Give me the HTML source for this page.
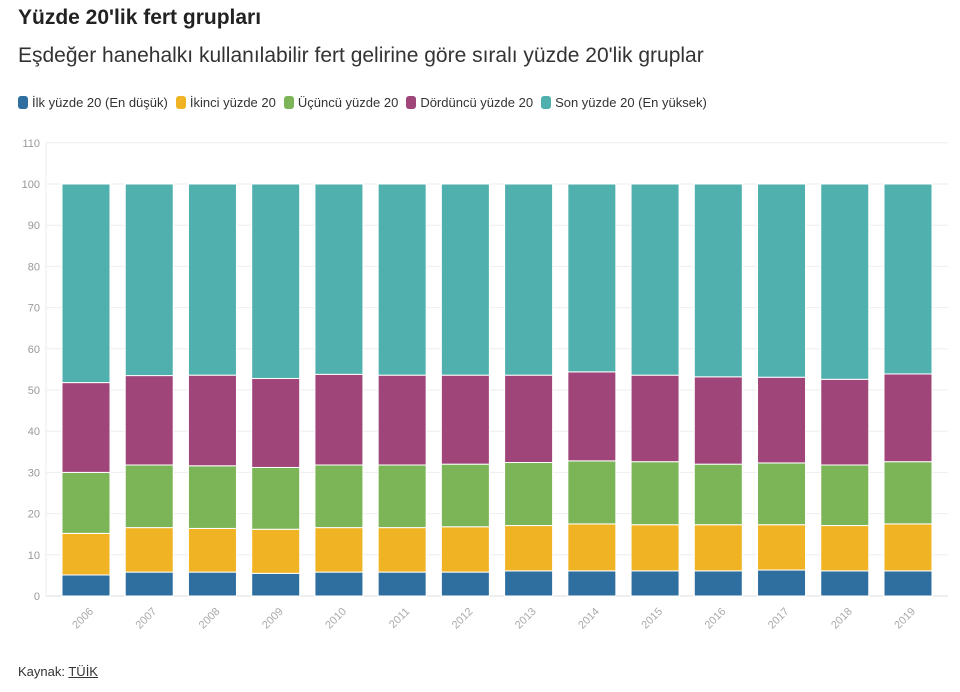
<!DOCTYPE html>
<html><head><meta charset="utf-8">
<style>
body{margin:0;background:#fff;font-family:"Liberation Sans","DejaVu Sans",sans-serif;}
#wrap{position:relative;width:960px;height:692px;overflow:hidden;}
h1{position:absolute;left:18px;top:6px;margin:0;font-size:21px;font-weight:bold;color:#222;}
h2{position:absolute;left:18px;top:44px;margin:0;font-size:21px;font-weight:normal;color:#333;}
#legend{position:absolute;left:18px;top:95px;font-size:13px;color:#333;display:flex;gap:8px;}
.li{display:flex;align-items:center;}
.sw{display:inline-block;width:10px;height:13px;border-radius:3px;margin-right:4px;}
#foot{position:absolute;left:18px;top:664px;font-size:13px;color:#333;}
#foot u{color:#333;}
</style></head><body>
<div id="wrap">
<h1>Yüzde 20'lik fert grupları</h1>
<h2>Eşdeğer hanehalkı kullanılabilir fert gelirine göre sıralı yüzde 20'lik gruplar</h2>
<div id="legend">
<span class="li"><span class="sw" style="background:#2f6f9f"></span>İlk yüzde 20 (En düşük)</span>
<span class="li"><span class="sw" style="background:#f0b323"></span>İkinci yüzde 20</span>
<span class="li"><span class="sw" style="background:#7cb557"></span>Üçüncü yüzde 20</span>
<span class="li"><span class="sw" style="background:#a0457a"></span>Dördüncü yüzde 20</span>
<span class="li"><span class="sw" style="background:#4fb0ad"></span>Son yüzde 20 (En yüksek)</span>
</div>
<svg id="chart" width="960" height="692" style="position:absolute;left:0;top:0"></svg>
<div id="foot">Kaynak: <u>TÜİK</u></div>
</div>
<script>
const years=["2006","2007","2008","2009","2010","2011","2012","2013","2014","2015","2016","2017","2018","2019"];
const q1=[5.1,5.8,5.8,5.5,5.8,5.8,5.8,6.1,6.1,6.1,6.1,6.3,6.1,6.1];
const q2=[10.1,10.8,10.6,10.7,10.8,10.8,11.0,11.0,11.4,11.2,11.2,11.0,11.0,11.4];
const q3=[14.8,15.2,15.2,15.0,15.2,15.2,15.2,15.3,15.3,15.3,14.7,15.0,14.7,15.1];
const q4=[21.8,21.7,22.0,21.6,22.0,21.8,21.6,21.2,21.6,21.0,21.2,20.8,20.8,21.3];
const q5=[48.2,46.5,46.4,47.2,46.2,46.4,46.4,46.4,45.6,46.4,46.8,46.9,47.4,46.1];
const yTicks=[0,10,20,30,40,50,60,70,80,90,100,110];
const series=[q1,q2,q3,q4,q5];
const colors=["#2f6f9f","#f0b323","#7cb557","#a0457a","#4fb0ad"];
const names=["q1","q2","q3","q4","q5"];
const NS="http://www.w3.org/2000/svg";
const svg=document.getElementById('chart');
const y0=596,pxPer=4.12,x0=62,step=63.23,bw=48;
const y=v=>y0-v*pxPer;
const x=i=>x0+i*step;
function mk(t,a){const e=document.createElementNS(NS,t);for(const k in a)e.setAttribute(k,a[k]);svg.appendChild(e);return e;}
yTicks.forEach(t=>{
 const g=mk('line',{x1:46,x2:948,y1:y(t),y2:y(t),stroke:t===0?'#ddd':'#eee','stroke-width':1});
 
 
 const l=mk('text',{x:40,y:y(t)+4,'text-anchor':'end','font-size':11,fill:'#999','font-family':'Liberation Sans,sans-serif'});
 l.textContent=t;
 
 
});
mk('line',{x1:46,x2:46,y1:y(110),y2:y0,stroke:'#eee'});
years.forEach((yr,i)=>{
 let cum=0;
 series.forEach((s,k)=>{
  const v=s[i];
  const r=mk('rect',{x:x(i),y:y(cum+v),width:bw,height:v*pxPer,fill:colors[k],stroke:'#fff','stroke-width':1});
  
  
  cum+=v;
 });
 const cx=x(i)+bw/2;
 const t=mk('text',{x:cx+8,y:612,'text-anchor':'end','font-size':11,fill:'#aaa','font-family':'Liberation Sans,sans-serif',transform:`rotate(-45 ${cx+8} 612)`});
 t.textContent=yr;
 
 
});
</script>
</body></html>
